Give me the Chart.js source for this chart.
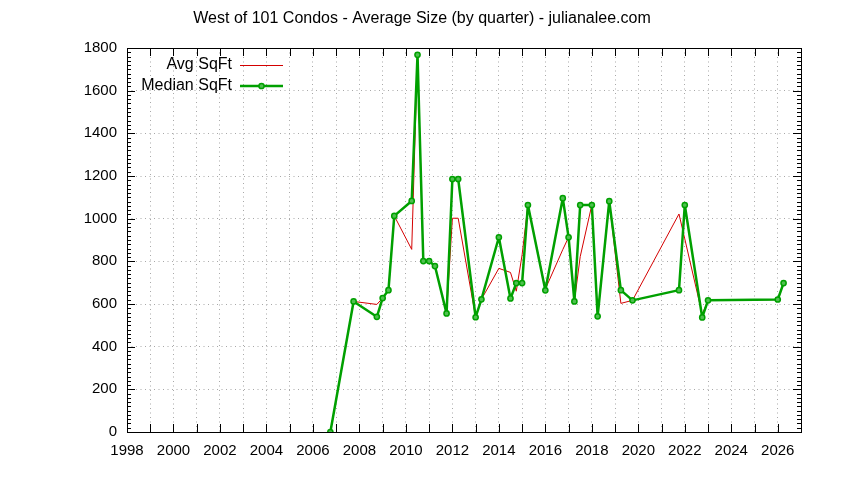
<!DOCTYPE html>
<html>
<head>
<meta charset="utf-8">
<script src="https://cdn.jsdelivr.net/npm/chart.js@4.4.1/dist/chart.umd.min.js"></script>
<style>
html, body { margin: 0; padding: 0; background: #ffffff; }
#wrap { width: 844px; height: 480px; }
</style>
</head>
<body>
<div id="wrap"><canvas id="c" width="844" height="480"></canvas></div>
<script>
// ---- data ----
const quarters = [2006.75, 2007.75, 2008.75, 2009.0, 2009.25, 2009.5, 2010.25, 2010.5, 2010.75, 2011.0,
  2011.25, 2011.75, 2012.0, 2012.25, 2013.0, 2013.25, 2014.0, 2014.5, 2014.75, 2015.0,
  2015.25, 2016.0, 2016.75, 2017.0, 2017.25, 2017.5, 2018.0, 2018.25, 2018.75, 2019.25,
  2019.75, 2021.75, 2022.0, 2022.75, 2023.0, 2026.0, 2026.25];
const avgSqFt = [0, 612, 598, 628, 665, 1013, 856, 1768, 801, 801,
  778, 556, 1002, 1002, 538, 622, 767, 748, 660, 830,
  1064, 670, 855, 913, 612, 822, 1064, 542, 1082, 603,
  617, 1022, 905, 552, 617, 621, 698];
const medianSqFt = [0, 612, 540, 628, 665, 1013, 1083, 1768, 801, 801,
  778, 556, 1186, 1186, 538, 622, 913, 626, 698, 698,
  1064, 664, 1096, 913, 612, 1064, 1064, 542, 1082, 665,
  617, 665, 1064, 537, 617, 621, 698];
const xTickLabels = ['1998','2000','2002','2004','2006','2008','2010','2012','2014','2016','2018','2020','2022','2024','2026'];
const yTickValues = [0, 200, 400, 600, 800, 1000, 1200, 1400, 1600, 1800];
const seriesNames = ['Avg SqFt', 'Median SqFt'];
const chartTitle = 'West of 101 Condos - Average Size (by quarter) - julianalee.com';

const FONT = '"Liberation Sans", Arial, sans-serif';
const RED = '#d40000';
const GREEN = '#00a000';

const toPoints = (vals) => quarters.map((q, i) => ({ x: q, y: vals[i] }));

const framePlugin = {
  id: 'gnuframe',
  afterDraw(chart) {
    const { ctx, chartArea: a, scales } = chart;
    const xs = scales.x, ys = scales.y;
    ctx.save();
    // title
    ctx.font = '16px ' + FONT;
    ctx.fillStyle = '#000';
    ctx.textAlign = 'center';
    ctx.textBaseline = 'middle';
    ctx.fillText(chartTitle, 422, 19);

    ctx.strokeStyle = '#000';
    ctx.lineWidth = 1;
    ctx.setLineDash([]);
    // frame
    ctx.strokeRect(Math.round(a.left) + 0.5, Math.round(a.top) + 0.5,
      Math.round(a.right) - Math.round(a.left), Math.round(a.bottom) - Math.round(a.top));
    ctx.beginPath();
    // x ticks (every year) bottom & top, inward
    for (let v = xs.min; v <= xs.max; v += 1) {
      const px = Math.round(xs.getPixelForValue(v)) + 0.5;
      ctx.moveTo(px, a.bottom); ctx.lineTo(px, a.bottom - 8);
      ctx.moveTo(px, a.top); ctx.lineTo(px, a.top + 8);
    }
    // y ticks major every 200, minor every 20
    for (let v = ys.min; v <= ys.max + 0.001; v += 20) {
      const py = Math.round(ys.getPixelForValue(v)) + 0.5;
      const len = (Math.round(v) % 200 === 0) ? 8 : 4;
      ctx.moveTo(a.left, py); ctx.lineTo(a.left + len, py);
      ctx.moveTo(a.right, py); ctx.lineTo(a.right - len, py);
    }
    ctx.stroke();

    // key (legend) gnuplot style
    ctx.font = '16px ' + FONT;
    ctx.fillStyle = '#000';
    ctx.textAlign = 'right';
    ctx.textBaseline = 'middle';
    const keyX = 232, y1 = 65, y2 = 86, l0 = 240, l1 = 283;
    ctx.fillText(seriesNames[0], keyX, y1);
    ctx.fillText(seriesNames[1], keyX, y2);
    ctx.strokeStyle = RED; ctx.lineWidth = 1;
    ctx.beginPath(); ctx.moveTo(l0, y1 + 0.5); ctx.lineTo(l1, y1 + 0.5); ctx.stroke();
    ctx.strokeStyle = GREEN; ctx.lineWidth = 2.5;
    ctx.beginPath(); ctx.moveTo(l0, y2); ctx.lineTo(l1, y2); ctx.stroke();
    ctx.lineWidth = 1.5; ctx.fillStyle = '#50c050';
    ctx.beginPath(); ctx.arc((l0 + l1) / 2, y2, 2.6, 0, Math.PI * 2); ctx.fill(); ctx.stroke();
    ctx.restore();
  }
};

new Chart(document.getElementById('c'), {
  type: 'line',
  data: {
    datasets: [
      {
        label: seriesNames[0],
        data: toPoints(avgSqFt),
        borderColor: RED,
        borderWidth: 1,
        borderJoinStyle: 'round',
        pointRadius: 0,
        tension: 0,
        order: 1
      },
      {
        label: seriesNames[1],
        data: toPoints(medianSqFt),
        borderColor: GREEN,
        borderWidth: 2.5,
        borderJoinStyle: 'round',
        pointRadius: 2.6,
        pointBorderWidth: 1.5,
        pointBorderColor: GREEN,
        pointBackgroundColor: '#50c050',
        tension: 0,
        order: 0
      }
    ]
  },
  options: {
    responsive: false,
    animation: false,
    devicePixelRatio: 1,
    layout: { padding: { left: 0, right: 43, top: 48, bottom: 0 } },
    plugins: {
      legend: { display: false },
      tooltip: { enabled: false },
      title: { display: false }
    },
    scales: {
      x: {
        type: 'linear',
        min: 1998,
        max: 2027,
        afterFit(s) { s.height = 48; },
        ticks: {
          stepSize: 1,
          autoSkip: false,
          maxRotation: 0,
          padding: 10,
          color: '#000',
          font: { family: FONT, size: 15 },
          callback: (v) => xTickLabels.includes(String(v)) ? String(v) : ''
        },
        grid: { color: '#a8a8a8', lineWidth: 1, drawTicks: false },
        border: { display: false, dash: [1, 3.5] }
      },
      y: {
        min: 0,
        max: 1800,
        afterFit(s) { s.width = 127; },
        afterBuildTicks(s) { s.ticks = yTickValues.map(v => ({ value: v })); },
        ticks: {
          padding: 10,
          color: '#000',
          font: { family: FONT, size: 15 },
          callback: (v) => String(v)
        },
        grid: { color: '#a8a8a8', lineWidth: 1, drawTicks: false },
        border: { display: false, dash: [1, 3.5] }
      }
    }
  },
  plugins: [framePlugin]
});
</script>
</body>
</html>
